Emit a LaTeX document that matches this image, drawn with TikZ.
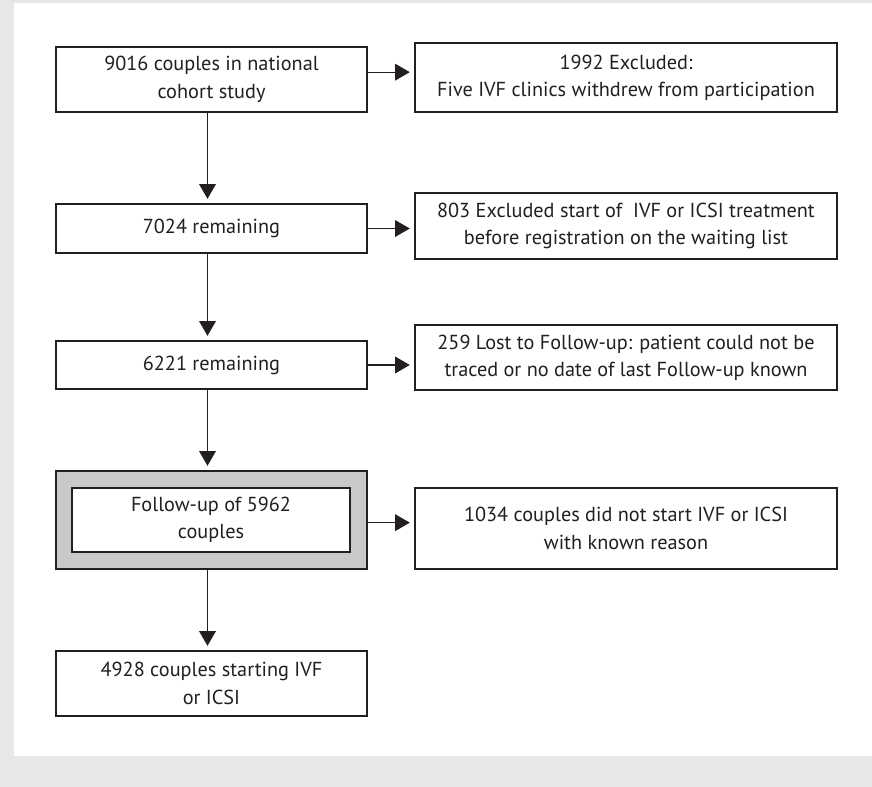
\documentclass[tikz,border=0pt]{standalone}
\usepackage{fontspec}
\setmainfont{PT Sans}
\usetikzlibrary{arrows.meta, positioning, calc}
\definecolor{pagegray}{HTML}{E6E7E8}
\definecolor{inkdark}{HTML}{231F20}
\definecolor{framegray}{HTML}{C8C9CB}

\tikzset{
  flowbox/.style={draw=inkdark, line width=0.8pt, fill=white, align=center,
    text=inkdark, inner sep=0pt, font=\fontsize{15.2}{20.5}\selectfont},
  leftbox/.style={flowbox, minimum width=233.25pt},
  rightbox/.style={flowbox, minimum width=316.5pt},
  flowarrow/.style={-{Triangle[length=11pt, width=12.5pt]}, draw=inkdark,
    line width=0.8pt, shorten >=3.5pt}
}

\begin{document}
\begin{tikzpicture}[x=0.75pt, y=-0.75pt]

% Background
\fill[pagegray] (0,0) rectangle (872,787);
\fill[white] (14,3) rectangle (872,756);
\useasboundingbox (0,0) rectangle (872,787);

% ================================================================
% LEFT COLUMN
% ================================================================
\node[leftbox, minimum height=48.75pt] (cohort) at (211.5,79.5)
  {9016 couples in national\\cohort study};
\node[leftbox, minimum height=36.75pt] (remainA) at (211.5,228.5)
  {7024 remaining};
\node[leftbox, minimum height=36pt] (remainB) at (211.5,365)
  {6221 remaining};

% Follow-up box in a grey frame
\node[flowbox, fill=framegray, minimum width=233.25pt, minimum height=73.5pt]
  (frame) at (211.5,520) {};
\node[flowbox, minimum width=208.5pt, minimum height=48pt] (followup) at (211,520)
  {Follow-up of 5962\\couples};

\node[leftbox, minimum height=48.75pt] (starting) at (211.5,683.5)
  {4928 couples starting IVF\\or ICSI};

% ================================================================
% RIGHT COLUMN
% ================================================================
\node[rightbox, minimum height=51.75pt] (exclA) at (626,77.5)
  {1992 Excluded:\\Five IVF clinics withdrew from participation};
\node[rightbox, minimum height=49.5pt] (exclB) at (626,226)
  {803 Excluded start of~ IVF or ICSI treatment\\before registration on the waiting list};
\node[rightbox, minimum height=48.75pt] (lost) at (626,357.5)
  {259 Lost to Follow-up: patient could not be\\traced or no date of last Follow-up known};
\node[rightbox, minimum height=60.75pt] (nostart) at (626,528.5)
  {1034 couples did not start IVF or ICSI\\with known reason};

% Arrows down
\draw[flowarrow] ([xshift=-3pt]cohort.south) -- ([xshift=-3pt]remainA.north);
\draw[flowarrow] ([xshift=-3pt]remainA.south) -- ([xshift=-3pt]remainB.north);
\draw[flowarrow] ([xshift=-3pt]remainB.south) -- ([xshift=-3pt]frame.north);
\draw[flowarrow] ([xshift=-3pt]frame.south) -- ([xshift=-3pt]starting.north);

% Arrows right
\draw[flowarrow] ([yshift=5.5pt]cohort.east) -- ([yshift=5.5pt]cohort.east -| exclA.west);
\draw[flowarrow] (remainA.east) -- (remainA.east -| exclB.west);
\draw[flowarrow] (remainB.east) -- (remainB.east -| lost.west);
\draw[flowarrow] ([yshift=-2pt]frame.east) -- ([yshift=-2pt]frame.east -| nostart.west);

\end{tikzpicture}
\end{document}
